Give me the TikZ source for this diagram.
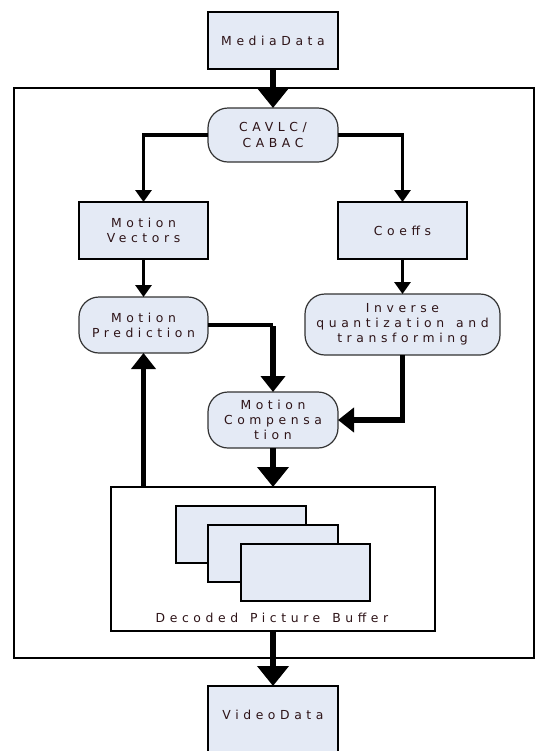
\documentclass[tikz,border=0pt]{standalone}
\usepackage{fontspec}
\usetikzlibrary{arrows.meta}
\newfontfamily\labelfont[LetterSpace=37,WordSpace=1.4]{DejaVu Sans}
\definecolor{boxfill}{HTML}{E4EAF5}
\definecolor{labeltext}{HTML}{2E1418}
\begin{document}
\begin{tikzpicture}[x=0.75pt,y=-0.75pt,
  every node/.style={inner sep=0pt, outer sep=0pt, align=center,
    font=\labelfont\fontsize{9.3pt}{11.4pt}\selectfont, text=labeltext},
  sqbox/.style={draw=black, line width=0.9pt, fill=boxfill},
  rbox/.style={draw=black!80, line width=0.9pt, fill=boxfill, rounded corners=15pt},
  frame/.style={draw=black, line width=0.8pt},
  midarrow/.style={line width=2.3pt, -{Triangle[length=9pt,width=12pt]}},
  thickarrow/.style={line width=3.8pt, -{Triangle[length=12pt,width=18pt]}},
  bigarrow/.style={line width=5.2pt, -{Triangle[length=15pt,width=23pt]}},
]
\useasboundingbox (0,0) rectangle (550,751);
\fill[white] (0,0) rectangle (550,751);

% outer decoder frame
\node[frame, minimum width=520*0.75pt, minimum height=570*0.75pt] (dec) at (274,373) {};

% input and output
\node[sqbox, minimum width=130*0.75pt, minimum height=57*0.75pt] (media) at (273,40.5) {MediaData};
\node[sqbox, minimum width=130*0.75pt, minimum height=80*0.75pt, anchor=north] (video) at (273,686) {};
\node (videotxt) at (273,715) {VideoData};

% entropy decoding
\node[rbox, minimum width=130*0.75pt, minimum height=54*0.75pt] (cav) at (273,135) {CAVLC/\\CABAC};

\node[sqbox, minimum width=129*0.75pt, minimum height=57*0.75pt] (mv) at (143.5,230.5) {Motion\\Vectors};
\node[sqbox, minimum width=129*0.75pt, minimum height=57*0.75pt] (coef) at (402.5,230.5) {Coeffs};

\node[rbox, minimum width=129*0.75pt, minimum height=56*0.75pt] (mp) at (143.5,325) {Motion\\Prediction};
\node[rbox, minimum width=195*0.75pt, minimum height=61*0.75pt] (inv) at (402.5,324.5) {Inverse\\quantization and\\transforming};

\node[rbox, minimum width=130*0.75pt, minimum height=56*0.75pt] (mc) at (273,420) {Motion\\Compensa\\tion};

% decoded picture buffer
\node[frame, fill=white, line width=0.9pt, minimum width=324*0.75pt, minimum height=144*0.75pt] (dpb) at (273,559) {};
\node[sqbox, line width=0.8pt, minimum width=130*0.75pt, minimum height=57*0.75pt] (pic1) at (241,534.5) {};
\node[sqbox, line width=0.8pt, minimum width=130*0.75pt, minimum height=57*0.75pt] (pic2) at (273,553.5) {};
\node[sqbox, line width=0.8pt, minimum width=129*0.75pt, minimum height=57*0.75pt] (pic3) at (305.5,572.5) {};
\node (dpbtxt) at (272,618) {Decoded Picture Buffer};

% connectors
\draw[bigarrow] (media.south) -- (cav.north);
\draw[midarrow] (cav.west) -| (mv.north);
\draw[midarrow] (cav.east) -| (coef.north);
\draw[midarrow] (mv.south) -- (mp.south |- mp.north);
\draw[midarrow] (coef.south) -- (inv.north);
\coordinate (mpturn) at (mp.east -| mc.north);
\draw[line width=2.6pt] (mp.east) -- (mpturn);
\draw[thickarrow] ([yshift=-1pt]mpturn) -- (mc.north);
\coordinate (invturn) at (inv.south |- mc.east);
\draw[thickarrow] (inv.south) -- (invturn) -- (mc.east);
\draw[bigarrow] (mc.south) -- (dpb.north);
\draw[thickarrow] (mp.south |- dpb.north) -- (mp.south);
\draw[bigarrow] (dpb.south) -- (video.north);
\end{tikzpicture}
\end{document}
